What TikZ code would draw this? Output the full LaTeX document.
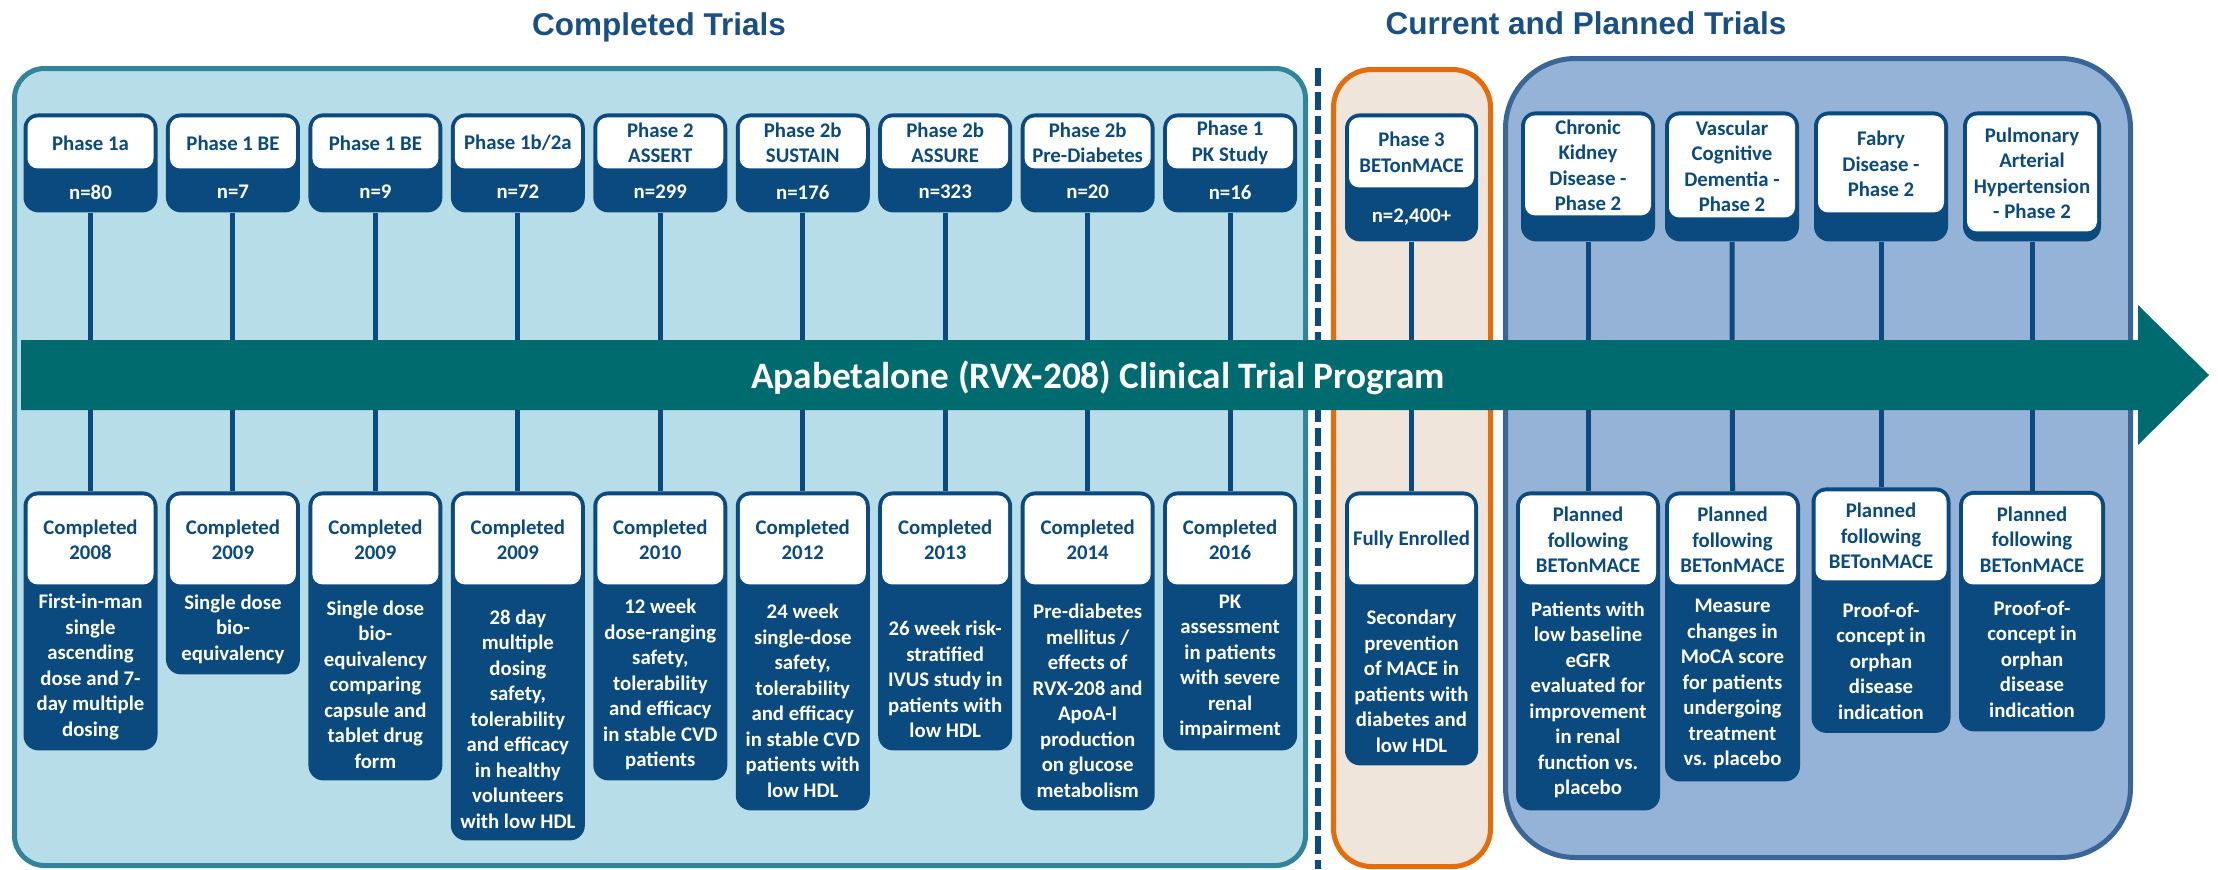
\documentclass[tikz,border=0pt]{standalone}
\usepackage{fontspec}
\setmainfont{Carlito}
\newfontfamily\titlefont{Liberation Sans}
\definecolor{cardblue}{HTML}{0B4A7E}
\definecolor{titleblue}{HTML}{1A4F86}
\definecolor{compfill}{HTML}{B7DDE8}
\definecolor{compedge}{HTML}{31849B}
\definecolor{curfill}{HTML}{F0E5DB}
\definecolor{curedge}{HTML}{E46C0A}
\definecolor{planfill}{HTML}{95B3D7}
\definecolor{planedge}{HTML}{3A6597}
\definecolor{arrowcol}{HTML}{006B6F}
\newcommand\cardtext{\fontsize{10.4}{12.75}\selectfont\bfseries}
\tikzset{
  cardbox/.style={rectangle, fill=cardblue, rounded corners=7.5pt, inner sep=0pt, anchor=north},
  whitebox/.style={rectangle, fill=white, rounded corners=5pt, inner sep=0pt, anchor=north,
    text=cardblue, align=center, font=\cardtext},
  desc/.style={text=white, align=center, font=\cardtext, inner sep=0pt},
  conn/.style={draw=cardblue, line width=2.5pt},
  titletext/.style={text=titleblue, font=\titlefont\bfseries\fontsize{15.75}{18}\selectfont, inner sep=0pt},
  panel/.style={line width=2.5pt}
}
% #1 name, #2 cx, #3 top, #4 bottom, #5 white bottom, #6 width, #7 header text
\newcommand\mycard[7]{%
  \node[cardbox, minimum width=#6*0.5pt, minimum height=(#4-#3)*0.5pt] (#1) at (#2,#3) {};
  \node[whitebox, minimum width=(#6-8)*0.5pt, minimum height=(#5-#3-4)*0.5pt] (#1h) at (#2,#3+4) {#7};
}
\begin{document}
\begin{tikzpicture}[x=0.5pt,y=-0.5pt]
\fill[white] (0,0) rectangle (2218,869);
\useasboundingbox (0,0) rectangle (2218,869);

% titles
\node[titletext] (ct) at (659,27) {Completed Trials};
\node[titletext] (pt) at (1586,23) {Current and Planned Trials};

% panels
\draw[panel, fill=compfill, draw=compedge, rounded corners=15pt] (14.5,68.5) rectangle (1305.5,865.5);
\draw[panel, fill=curfill, draw=curedge, rounded corners=19pt] (1333.5,69.5) rectangle (1490.5,866.5);
\draw[panel, fill=planfill, draw=planedge, rounded corners=35pt] (1505.5,58.5) rectangle (2130.5,857.5);
\draw[draw=cardblue, line width=3.25pt, dash pattern=on 9pt off 3pt] (1318,68) -- (1318,869);

% ---------- top cards ----------
\mycard{t1}{90.5}{113}{212}{168}{134}{Phase 1a}
\mycard{t2}{232.95}{113}{212}{168}{134}{Phase 1 BE}
\mycard{t3}{375.4}{113}{212}{168}{134}{Phase 1 BE}
\mycard{t4}{517.85}{113}{212}{168}{134}{Phase 1b/2a}
\mycard{t5}{660.3}{113}{212}{168}{134}{Phase 2\\ASSERT}
\mycard{t6}{802.75}{113}{212}{168}{134}{Phase 2b\\SUSTAIN}
\mycard{t7}{945.2}{113}{212}{168}{134}{Phase 2b\\ASSURE}
\mycard{t8}{1087.65}{113}{212}{168}{134}{Phase 2b\\Pre-Diabetes}
\mycard{t9}{1230.1}{113}{212}{168}{134}{Phase 1\\PK Study}
\mycard{t10}{1411.5}{113}{241}{187}{133}{Phase 3\\BETonMACE}
\mycard{t11}{1588}{111}{241}{215}{134}{Chronic\\Kidney\\Disease -\\Phase 2}
\mycard{t12}{1732}{111}{241}{217}{134}{Vascular\\Cognitive\\Dementia -\\Phase 2}
\mycard{t13}{1881}{111}{241}{212}{134}{Fabry\\Disease -\\Phase 2}
\mycard{t14}{2032}{111}{241}{231}{138}{Pulmonary\\Arterial\\Hypertension\\- Phase 2}

\node[desc] (n1) at (90.5,192) {n=80};
\node[desc] (n2) at (232.95,192) {n=7};
\node[desc] (n3) at (375.4,192) {n=9};
\node[desc] (n4) at (517.85,192) {n=72};
\node[desc] (n5) at (660.3,192) {n=299};
\node[desc] (n6) at (802.75,192) {n=176};
\node[desc] (n7) at (945.2,192) {n=323};
\node[desc] (n8) at (1087.65,192) {n=20};
\node[desc] (n9) at (1230.1,192) {n=16};
\node[desc] (n10) at (1411.5,217) {n=2,400+};

% ---------- bottom cards ----------
\mycard{b1}{90.5}{491}{750}{584}{134}{Completed\\2008}
\mycard{b2}{232.95}{491}{674}{584}{134}{Completed\\2009}
\mycard{b3}{375.4}{491}{780}{584}{134}{Completed\\2009}
\mycard{b4}{517.85}{491}{840}{584}{134}{Completed\\2009}
\mycard{b5}{660.3}{491}{780}{584}{134}{Completed\\2010}
\mycard{b6}{802.75}{491}{810}{584}{134}{Completed\\2012}
\mycard{b7}{945.2}{491}{750}{584}{134}{Completed\\2013}
\mycard{b8}{1087.65}{491}{810}{584}{134}{Completed\\2014}
\mycard{b9}{1230.1}{491}{750}{584}{134}{Completed\\2016}
\mycard{b10}{1411.5}{491}{765}{584}{133}{Fully Enrolled}
\mycard{b11}{1588}{491}{810}{584}{144}{Planned\\following\\BETonMACE}
\mycard{b12}{1732.5}{491}{781}{584}{135}{Planned\\following\\BETonMACE}
\mycard{b13}{1881}{487}{732.5}{580}{139}{Planned\\following\\BETonMACE}
\mycard{b14}{2032}{490.5}{731}{584}{146}{Planned\\following\\BETonMACE}

\node[desc] (d1) at (90.5,667) {First-in-man\\single\\ascending\\dose and 7-\\day multiple\\dosing};
\node[desc] (d2) at (232.95,629) {Single dose\\bio-\\equivalency};
\node[desc] (d3) at (375.4,684.5) {Single dose\\bio-\\equivalency\\comparing\\capsule and\\tablet drug\\form};
\node[desc] (d4) at (517.85,719) {28 day\\multiple\\dosing\\safety,\\tolerability\\and efficacy\\in healthy\\volunteers\\with low HDL};
\node[desc] (d5) at (660.3,684.5) {12 week\\dose-ranging\\safety,\\tolerability\\and efficacy\\in stable CVD\\patients};
\node[desc] (d6) at (802.75,701) {24 week\\single-dose\\safety,\\tolerability\\and efficacy\\in stable CVD\\patients with\\low HDL};
\node[desc] (d7) at (945.2,679.5) {26 week risk-\\stratified\\IVUS study in\\patients with\\low HDL};
\node[desc] (d8) at (1087.65,701) {Pre-diabetes\\mellitus /\\effects of\\RVX-208 and\\ApoA-I\\production\\on glucose\\metabolism};
\node[desc] (d9) at (1230.1,667) {PK\\assessment\\in patients\\with severe\\renal\\impairment};
\node[desc] (d10) at (1411.5,681.5) {Secondary\\prevention\\of MACE in\\patients with\\diabetes and\\low HDL};
\node[desc] (d11) at (1588,700) {Patients with\\low baseline\\eGFR\\evaluated for\\improvement\\in renal\\function vs.\\placebo};
\node[desc] (d12) at (1732.5,684) {Measure\\changes in\\MoCA score\\for patients\\undergoing\\treatment\\vs. placebo};
\node[desc] (d13) at (1881,661) {Proof-of-\\concept in\\orphan\\disease\\indication};
\node[desc] (d14) at (2032,659) {Proof-of-\\concept in\\orphan\\disease\\indication};

% ---------- connectors (behind arrow) ----------
\foreach \i in {1,...,14} {\draw[conn] (t\i.south) -- (b\i.north);}

% ---------- arrow ----------
\fill[arrowcol] (21,340) -- (2138,340) -- (2138,305) -- (2209,375) -- (2138,445) -- (2138,410) -- (21,410) -- cycle;
\node[text=white, font=\fontsize{18.65}{20}\selectfont\bfseries, inner sep=0pt, anchor=base] (prog) at (1098,388) {Apabetalone (RVX-208) Clinical Trial Program};
\end{tikzpicture}
\end{document}
